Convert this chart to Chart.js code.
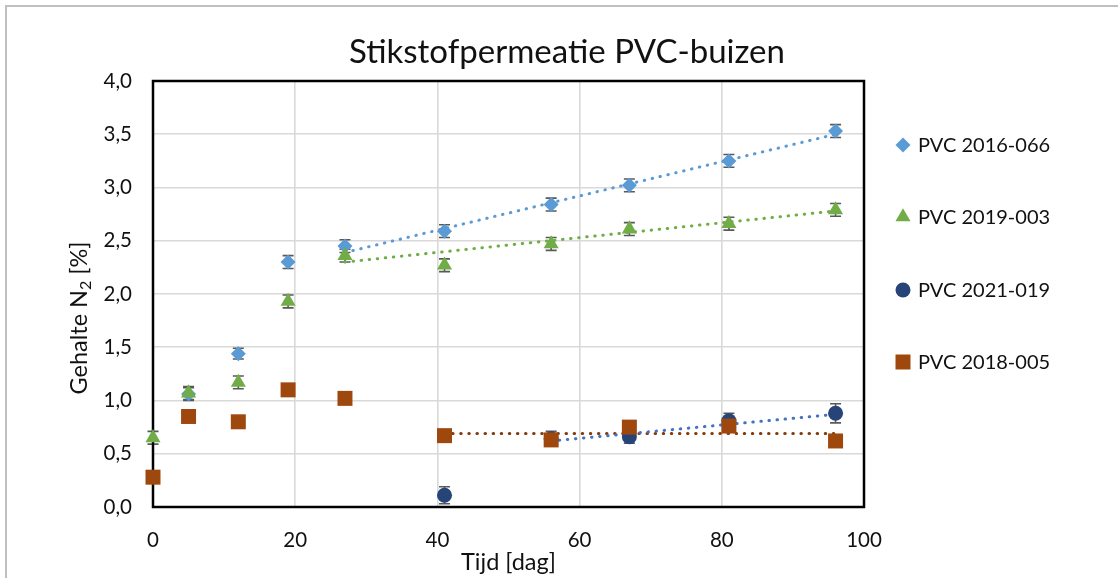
<!DOCTYPE html>
<html lang="nl">
<head>
<meta charset="UTF-8">
<title>Stikstofpermeatie PVC-buizen</title>
<script src="https://cdn.jsdelivr.net/npm/chart.js"></script>
<style>
    body { margin: 0; background: #fff; overflow: hidden; }
    .wrap { position: relative; width: 1118px; height: 578px; overflow: hidden; }
    .kader { position: absolute; left: 5px; top: 5px; width: 1300px; height: 800px; border: 2px solid #bfbfbf; }
    canvas { position: absolute; left: 0; top: 0; }
</style>
</head>
<body>
<div class="wrap">
    <div class="kader"></div>
    <canvas id="grafiek" width="1118" height="578"></canvas>
</div>

<script>
    // meetmomenten (dagen)
    const tijd = [0, 5, 12, 19, 27, 41, 56, 67, 81, 96];

    // gehalte N2 [%] per buis
    const pvc2016 = [null, 1.06, 1.44, 2.30, 2.45, 2.59, 2.84, 3.02, 3.25, 3.53];
    const pvc2019 = [0.65, 1.07, 1.17, 1.93, 2.36, 2.27, 2.47, 2.61, 2.66, 2.79];
    const pvc2021 = [null, null, null, null, null, 0.11, 0.64, 0.66, 0.81, 0.88];
    const pvc2018 = [0.28, 0.85, 0.80, 1.10, 1.02, 0.67, 0.63, 0.75, 0.76, 0.62];

    // foutmarges
    const fout2016 = [null, 0.06, 0.05, 0.06, 0.06, 0.06, 0.06, 0.06, 0.06, 0.06];
    const fout2019 = [0.06, 0.06, 0.06, 0.06, 0.06, 0.06, 0.06, 0.06, 0.06, 0.06];
    const fout2021 = [null, null, null, null, null, 0.08, 0.07, 0.06, 0.07, 0.09];

    // trendlijnen (begin en eind)
    const trendX2016 = [27, 96], trendY2016 = [2.39, 3.50];
    const trendX2019 = [27, 96], trendY2019 = [2.30, 2.78];
    const trendX2021 = [56, 96], trendY2021 = [0.62, 0.87];
    const trendX2018 = [41, 96], trendY2018 = [0.69, 0.69];

    const xTicks = [0, 20, 40, 60, 80, 100];
    const yTicks = [0, 0.5, 1, 1.5, 2, 2.5, 3, 3.5, 4];

    const legendaNamen = ["PVC 2016-066", "PVC 2019-003", "PVC 2021-019", "PVC 2018-005"];
    const titel = "Stikstofpermeatie PVC-buizen";

    const FONT = "Lato";
    const kleuren = ["#5B9BD5", "#70AD47", "#264478", "#9E480E"];

    function punten(xs, ys, fout) {
        const res = [];
        for (let i = 0; i < xs.length; i++) {
            if (ys[i] == null) continue;
            res.push({ x: xs[i], y: ys[i], e: fout ? fout[i] : null });
        }
        return res;
    }

    function reeks(naam, data, kleur, stijl, straal, volgorde) {
        return {
            label: naam,
            data: data,
            pointStyle: stijl,
            pointRadius: straal,
            pointHoverRadius: straal,
            pointBackgroundColor: kleur,
            pointBorderWidth: 0,
            borderColor: kleur,
            showLine: false,
            order: volgorde,
            clip: false
        };
    }

    function trend(xs, ys, kleur) {
        return {
            label: "trend",
            data: punten(xs, ys),
            showLine: true,
            borderColor: kleur,
            borderWidth: 3,
            borderDash: [0.5, 7.6],
            borderCapStyle: "round",
            pointRadius: 0,
            order: 10,
            clip: false
        };
    }

    // foutbalken onder de markers
    const foutbalken = {
        id: "foutbalken",
        beforeDatasetsDraw(chart) {
            const ctx = chart.ctx;
            const ys = chart.scales.y;
            ctx.save();
            ctx.strokeStyle = "#595959";
            ctx.lineWidth = 1.6;
            chart.data.datasets.forEach((ds, di) => {
                const meta = chart.getDatasetMeta(di);
                ds.data.forEach((p, i) => {
                    if (p.e == null) return;
                    const x = meta.data[i].x;
                    const top = ys.getPixelForValue(p.y + p.e);
                    const bot = ys.getPixelForValue(p.y - p.e);
                    ctx.beginPath();
                    ctx.moveTo(x, top); ctx.lineTo(x, bot);
                    ctx.moveTo(x - 5.5, top); ctx.lineTo(x + 5.5, top);
                    ctx.moveTo(x - 5.5, bot); ctx.lineTo(x + 5.5, bot);
                    ctx.stroke();
                });
            });
            ctx.restore();
        }
    };

    // kader om het plotgebied
    const plotKader = {
        id: "plotKader",
        beforeDatasetsDraw(chart) {
            const a = chart.chartArea;
            const ctx = chart.ctx;
            ctx.save();
            ctx.strokeStyle = "#000";
            ctx.lineWidth = 2.5;
            ctx.strokeRect(a.left, a.top, a.right - a.left, a.bottom - a.top);
            ctx.restore();
        }
    };

    // titel, y-as titel met subscript en legenda rechts
    const teksten = {
        id: "teksten",
        afterDraw(chart) {
            const ctx = chart.ctx;
            ctx.save();
            ctx.fillStyle = "#111";
            ctx.font = "33px " + FONT;
            ctx.textAlign = "center";
            ctx.textBaseline = "middle";
            ctx.fillText(titel, 567, 52);
            ctx.restore();

            ctx.save();
            ctx.fillStyle = "#111";
            ctx.translate(79, 318);
            ctx.rotate(-Math.PI / 2);
            ctx.textBaseline = "middle";
            const groot = "23.5px " + FONT, klein = "16px " + FONT;
            ctx.font = groot;
            const w1 = ctx.measureText("Gehalte N").width;
            const w3 = ctx.measureText(" [%]").width;
            ctx.font = klein;
            const w2 = ctx.measureText("2").width;
            let x = -(w1 + w2 + w3) / 2;
            ctx.font = groot;
            ctx.fillText("Gehalte N", x, 0);
            x += w1;
            ctx.font = klein;
            ctx.fillText("2", x, 7);
            x += w2;
            ctx.font = groot;
            ctx.fillText(" [%]", x, 0);
            ctx.restore();

            const stijlen = ["rectRot", "triangle", "circle", "rect"];
            const stralen = [7.5, 8.7, 7.5, 10.6];
            const yPos = [145, 217, 290, 362];
            ctx.save();
            ctx.font = "20px " + FONT;
            ctx.textBaseline = "middle";
            legendaNamen.forEach((naam, i) => {
                ctx.fillStyle = kleuren[i];
                Chart.helpers.drawPoint(ctx, { pointStyle: stijlen[i], radius: stralen[i], rotation: 0, borderWidth: 0 }, 903, yPos[i]);
                ctx.fillStyle = "#111";
                ctx.fillText(naam, 918, yPos[i] + 1);
            });
            ctx.restore();
        }
    };

    const datasets = [
        reeks(legendaNamen[0], punten(tijd, pvc2016, fout2016), kleuren[0], "rectRot", 7.5, 3),
        reeks(legendaNamen[1], punten(tijd, pvc2019, fout2019), kleuren[1], "triangle", 8.7, 2),
        reeks(legendaNamen[2], punten(tijd, pvc2021, fout2021), kleuren[2], "circle", 7.5, 1),
        reeks(legendaNamen[3], punten(tijd, pvc2018), kleuren[3], "rect", 10.6, 0),
        trend(trendX2016, trendY2016, "#5B9BD5"),
        trend(trendX2019, trendY2019, "#70AD47"),
        trend(trendX2021, trendY2021, "#4472C4"),
        trend(trendX2018, trendY2018, "#843C0C")
    ];

    new Chart(document.getElementById("grafiek"), {
        type: "scatter",
        data: { datasets: datasets },
        plugins: [foutbalken, plotKader, teksten],
        options: {
            responsive: false,
            animation: false,
            devicePixelRatio: 1,
            layout: { padding: { left: 0, right: 254, top: 81, bottom: 0 } },
            plugins: {
                legend: { display: false },
                tooltip: { enabled: false },
                title: { display: false }
            },
            scales: {
                x: {
                    type: "linear",
                    min: 0,
                    max: 100,
                    afterBuildTicks: s => { s.ticks = xTicks.map(v => ({ value: v })); },
                    afterFit: s => { s.height = 71; },
                    grid: { color: "#d9d9d9", lineWidth: 1.6, drawTicks: false },
                    border: { display: false },
                    ticks: { color: "#111", padding: 21, font: { family: FONT, size: 20.5 } },
                    title: {
                        display: true,
                        text: "Tijd [dag]",
                        color: "#111",
                        font: { family: FONT, size: 23.5 },
                        padding: { top: 0, bottom: 1 }
                    }
                },
                y: {
                    type: "linear",
                    min: 0,
                    max: 4,
                    afterBuildTicks: s => { s.ticks = yTicks.map(v => ({ value: v })); },
                    afterFit: s => { s.width = 153; },
                    grid: { color: "#d9d9d9", lineWidth: 1.6, drawTicks: false },
                    border: { display: false },
                    ticks: {
                        color: "#111",
                        padding: 21,
                        font: { family: FONT, size: 20.5 },
                        callback: v => v.toFixed(1).replace(".", ",")
                    }
                }
            }
        }
    });
</script>
</body>
</html>
